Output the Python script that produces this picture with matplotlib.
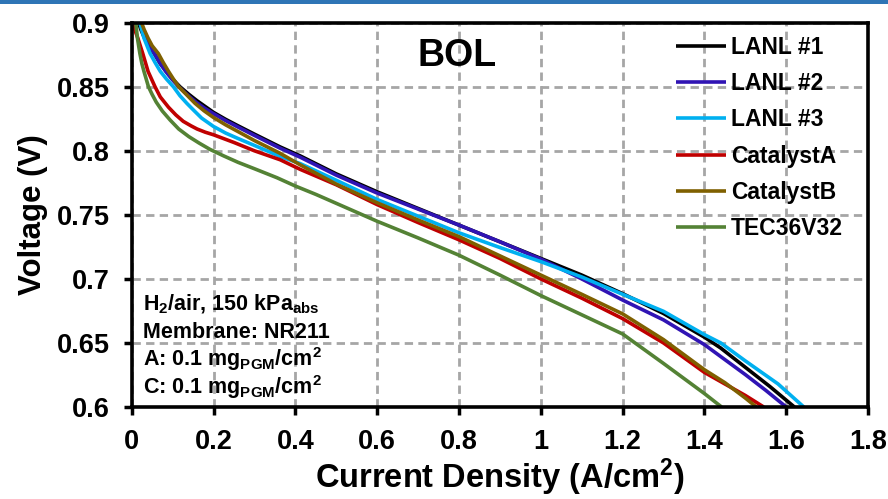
import numpy as np
import matplotlib
matplotlib.use('Agg')
import matplotlib.pyplot as plt
from matplotlib.patches import Rectangle

plt.rcParams['font.family'] = ['Liberation Sans', 'DejaVu Sans']
plt.rcParams['font.weight'] = 'bold'
plt.rcParams['mathtext.fontset'] = 'custom'
plt.rcParams['mathtext.rm'] = 'Liberation Sans:bold'
plt.rcParams['mathtext.it'] = 'Liberation Sans:bold'
plt.rcParams['mathtext.bf'] = 'Liberation Sans:bold'
plt.rcParams['mathtext.sf'] = 'Liberation Sans:bold'
plt.rcParams['mathtext.default'] = 'bf'

# polarization curves (current density A/cm2, voltage V)
lanl1_x = [0.017, 0.022, 0.03, 0.04, 0.057, 0.07, 0.085, 0.1, 0.118, 0.14, 0.16, 0.18, 0.2, 0.23,
           0.26, 0.3, 0.363, 0.412, 0.5, 0.6, 0.7, 0.8, 0.9, 1.0, 1.1, 1.2, 1.3, 1.4, 1.44, 1.5,
           1.56, 1.62]
lanl1_v = [0.900, 0.895, 0.889, 0.883, 0.875, 0.868, 0.862, 0.856, 0.850, 0.844, 0.839, 0.8345,
           0.830, 0.8245, 0.8195, 0.813, 0.803, 0.796, 0.782, 0.768, 0.755, 0.742, 0.729, 0.716,
           0.703, 0.6885, 0.673, 0.6545, 0.646, 0.631, 0.616, 0.600]

lanl2_x = [0.02, 0.026, 0.035, 0.045, 0.055, 0.068, 0.083, 0.098, 0.115, 0.135, 0.157, 0.178, 0.2,
           0.23, 0.26, 0.3, 0.363, 0.412, 0.5, 0.6, 0.7, 0.8, 0.9, 1.0, 1.1, 1.2, 1.3, 1.4, 1.5,
           1.55, 1.60]
lanl2_v = [0.900, 0.894, 0.888, 0.882, 0.876, 0.869, 0.862, 0.856, 0.850, 0.844, 0.838, 0.8333,
           0.829, 0.8235, 0.8185, 0.812, 0.802, 0.795, 0.781, 0.767, 0.7545, 0.742, 0.729, 0.7155,
           0.700, 0.6835, 0.668, 0.6487, 0.6253, 0.613, 0.600]

lanl3_x = [0.02, 0.025, 0.03, 0.045, 0.057, 0.07, 0.085, 0.102, 0.118, 0.135, 0.152, 0.171, 0.2,
           0.23, 0.26, 0.3, 0.363, 0.412, 0.5, 0.6, 0.7, 0.8, 0.9, 1.0, 1.1, 1.2, 1.3, 1.4, 1.44,
           1.5, 1.58, 1.643]
lanl3_v = [0.900, 0.894, 0.888, 0.876, 0.869, 0.862, 0.856, 0.850, 0.843, 0.837, 0.8315, 0.8255,
           0.819, 0.8138, 0.8096, 0.8042, 0.7956, 0.790, 0.777, 0.762, 0.749, 0.736, 0.7245, 0.7135,
           0.7015, 0.688, 0.6747, 0.6565, 0.650, 0.636, 0.618, 0.600]

cat_a_x = [0.003, 0.008, 0.015, 0.027, 0.04, 0.057, 0.07, 0.09, 0.108, 0.126, 0.145, 0.16, 0.18,
           0.2, 0.225, 0.25, 0.3, 0.363, 0.412, 0.5, 0.6, 0.7, 0.8, 0.9, 1.0, 1.1, 1.2, 1.3, 1.4,
           1.5, 1.545]
cat_a_v = [0.900, 0.894, 0.888, 0.876, 0.862, 0.850, 0.842, 0.834, 0.828, 0.823, 0.8195, 0.817,
           0.8145, 0.8125, 0.8095, 0.8065, 0.800, 0.793, 0.7855, 0.7735, 0.758, 0.744, 0.7305,
           0.716, 0.700, 0.685, 0.669, 0.650, 0.627, 0.609, 0.600]

cat_b_x = [0.024, 0.03, 0.04, 0.05, 0.065, 0.077, 0.09, 0.102, 0.115, 0.135, 0.155, 0.177, 0.2,
           0.23, 0.26, 0.3, 0.363, 0.412, 0.5, 0.6, 0.7, 0.8, 0.9, 1.0, 1.1, 1.2, 1.3, 1.4, 1.45,
           1.5, 1.527]
cat_b_v = [0.900, 0.895, 0.888, 0.882, 0.876, 0.869, 0.862, 0.856, 0.850, 0.8435, 0.837, 0.8312,
           0.826, 0.8202, 0.815, 0.808, 0.798, 0.789, 0.774, 0.7594, 0.746, 0.733, 0.718, 0.703,
           0.688, 0.6727, 0.6526, 0.6291, 0.619, 0.607, 0.600]

tec_x = [0.010, 0.014, 0.020, 0.025, 0.030, 0.041, 0.05, 0.06, 0.075, 0.094, 0.115, 0.14, 0.165,
         0.192, 0.225, 0.26, 0.3, 0.355, 0.4, 0.45, 0.5, 0.6, 0.7, 0.8, 0.9, 1.0, 1.1, 1.2, 1.3,
         1.4, 1.442]
tec_v = [0.900, 0.888, 0.876, 0.868, 0.862, 0.850, 0.844, 0.838, 0.831, 0.824, 0.817, 0.811,
         0.806, 0.801, 0.796, 0.791, 0.786, 0.779, 0.7725, 0.766, 0.759, 0.745, 0.732, 0.7185,
         0.703, 0.687, 0.672, 0.657, 0.634, 0.6105, 0.600]

labels = ['LANL #1', 'LANL #2', 'LANL #3', 'CatalystA', 'CatalystB', 'TEC36V32']
colors = ['#000000', '#3014B4', '#00B0F0', '#C00000', '#7F6000', '#548235']
series = [(lanl1_x, lanl1_v), (lanl2_x, lanl2_v), (lanl3_x, lanl3_v),
          (cat_a_x, cat_a_v), (cat_b_x, cat_b_v), (tec_x, tec_v)]

xticks = [0, 0.2, 0.4, 0.6, 0.8, 1.0, 1.2, 1.4, 1.6, 1.8]
yticks = [0.6, 0.65, 0.7, 0.75, 0.8, 0.85, 0.9]

fig = plt.figure(figsize=(8.88, 4.99), dpi=100)
ax = fig.add_axes([0.1483, 0.1844, 0.8292, 0.7701])

for (x, v), lab, c in zip(series, labels, colors):
    ax.plot(x, v, color=c, lw=2.6, label=lab, solid_capstyle='butt', solid_joinstyle='round')

ax.set_xlim(0, 1.8)
ax.set_ylim(0.6, 0.9)
ax.set_xticks(xticks, labels=[f'{t:g}' for t in xticks])
ax.set_yticks(yticks, labels=[f'{t:g}' for t in yticks])
ax.tick_params(direction='out', length=6, width=2.5, labelsize=19.5, pad=10)
ax.set_axisbelow(True)
ax.grid(True, color='#A6A6A6', lw=2, ls=(0, (3, 1.9)))
for s in ax.spines.values():
    s.set_linewidth(2.6)

ax.set_xlabel('Current Density (A/cm$^2$)', fontsize=23.5, fontweight='bold', labelpad=1)
ax.set_ylabel('Voltage (V)', fontsize=22.5, fontweight='bold', labelpad=6)

ax.text(0.442, 0.913, 'BOL', transform=ax.transAxes, fontsize=27, fontweight='bold',
        ha='center', va='center')

notes = ['H$_2$/air, 150 kPa$_{abs}$', 'Membrane: NR211',
         'A: 0.1 mg$_{PGM}$/cm$^2$', 'C: 0.1 mg$_{PGM}$/cm$^2$']
for i, t in enumerate(notes):
    ax.text(0.015, 0.252 - i * 0.0728, t, transform=ax.transAxes, fontsize=15.5,
            fontweight='bold', ha='left', va='baseline')

ax.legend(loc='upper right', bbox_to_anchor=(0.978, 0.99), frameon=False,
          prop={'size': 16.5, 'weight': 'bold'}, handlelength=2.2, handletextpad=0.2,
          labelspacing=0.58, borderaxespad=0)

fig.add_artist(Rectangle((0, 1 - 4 / 499), 1, 4 / 499, transform=fig.transFigure,
                         color='#2E75B6', lw=0))

fig.savefig('out.png', dpi=100)
